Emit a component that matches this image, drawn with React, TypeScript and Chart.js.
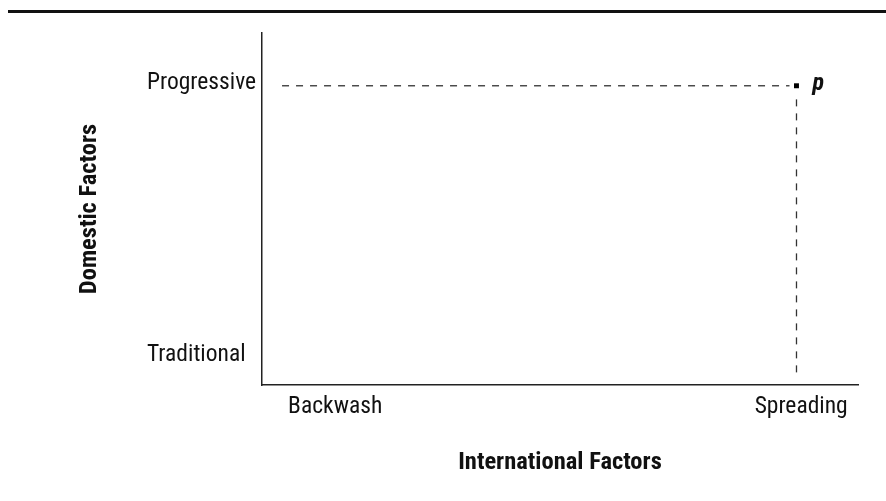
import React, { useEffect, useRef } from "react";
import { Chart, registerables } from "chart.js";

Chart.register(...registerables);

const xCategories = ["Backwash", "Spreading"];
const yCategories = ["Traditional", "Progressive"];
const xTitle = "International Factors";
const yTitle = "Domestic Factors";

const pointX = [0.99];
const pointY = [0.99];
const pointLabels = ["p"];

const hGuideX = [-0.114, 0.975];
const hGuideY = [0.99, 0.99];
const vGuideX = [0.99, 0.99];
const vGuideY = [0.94, -0.074];

const FONT = "'Roboto Condensed', 'Open Sans Condensed', sans-serif";

const pointLabelPlugin = {
  id: "pointLabelPlugin",
  afterDraw(chart: any) {
    const ctx = chart.ctx;
    ctx.save();
    ctx.fillStyle = "#111";
    const meta = chart.getDatasetMeta(2);
    ctx.font = `italic bold 24px ${FONT}`;
    ctx.textAlign = "left";
    ctx.textBaseline = "alphabetic";
    meta.data.forEach((el: any, i: number) => {
      ctx.fillText(pointLabels[i], el.x + 16, el.y + 4);
    });
    ctx.restore();
  },
};

export default function App() {
  const ref = useRef<HTMLCanvasElement | null>(null);
  useEffect(() => {
    if (!ref.current) return;
    const chart = new Chart(ref.current, {
      type: "scatter",
      data: {
        datasets: [
          {
            data: hGuideX.map((x, i) => ({ x, y: hGuideY[i] })),
            showLine: true,
            borderColor: "#333",
            borderWidth: 1.3,
            borderDash: [7, 7],
            pointRadius: 0,
          },
          {
            data: vGuideX.map((x, i) => ({ x, y: vGuideY[i] })),
            showLine: true,
            borderColor: "#333",
            borderWidth: 1.3,
            borderDash: [7, 7],
            pointRadius: 0,
          },
          {
            data: pointX.map((x, i) => ({ x, y: pointY[i] })),
            pointStyle: "rect",
            pointRadius: 3.5,
            backgroundColor: "#000",
            borderColor: "#000",
            borderWidth: 0,
          },
        ],
      },
      options: {
        animation: false,
        responsive: false,
        devicePixelRatio: 1,
        layout: { padding: { left: 147, top: 33, right: 28, bottom: 0 } },
        plugins: { legend: { display: false }, tooltip: { enabled: false } },
        scales: {
          x: {
            type: "linear",
            min: -0.157,
            max: 1.122,
            afterBuildTicks: (s: any) => {
              s.ticks = xCategories.map((_, i) => ({ value: i }));
            },
            afterFit: (s: any) => {
              s.height = 116;
            },
            ticks: {
              callback: (v: any) => xCategories[v] ?? "",
              color: "#111",
              font: { family: FONT, size: 23.5 },
              padding: 8,
              maxRotation: 0,
              autoSkip: false,
            },
            title: {
              display: true,
              text: xTitle,
              color: "#111",
              font: { family: FONT, size: 24.5, weight: "bold" },
              padding: { top: 0, bottom: 23.8 },
            },
            grid: { display: false, drawTicks: false },
            border: { display: true, color: "#222", width: 1.5 },
          },
          y: {
            type: "linear",
            min: -0.11,
            max: 1.184,
            afterBuildTicks: (s: any) => {
              s.ticks = yCategories.map((_, i) => ({ value: i }));
            },
            afterFit: (s: any) => {
              s.width = 115;
            },
            ticks: {
              callback: (v: any) => yCategories[v] ?? "",
              color: "#111",
              font: { family: FONT, size: 23.5 },
              crossAlign: "far",
              autoSkip: false,
            },
            title: {
              display: true,
              text: yTitle,
              color: "#111",
              font: { family: FONT, size: 24.5, weight: "bold" },
              padding: { top: -71.7, bottom: 0 },
            },
            grid: { display: false, drawTicks: false },
            border: { display: true, color: "#222", width: 1.5 },
          },
        },
      },
      plugins: [pointLabelPlugin],
    } as any);
    return () => chart.destroy();
  }, []);
  return (
    <div style={{ position: "absolute", left: 0, top: 0, width: 886, height: 501, background: "#fff" }}>
      <canvas ref={ref} width={886} height={501} style={{ display: "block" }} />
      <div style={{ position: "absolute", left: 8, top: 10, width: 878, height: 3, background: "#111" }} />
    </div>
  );
}
